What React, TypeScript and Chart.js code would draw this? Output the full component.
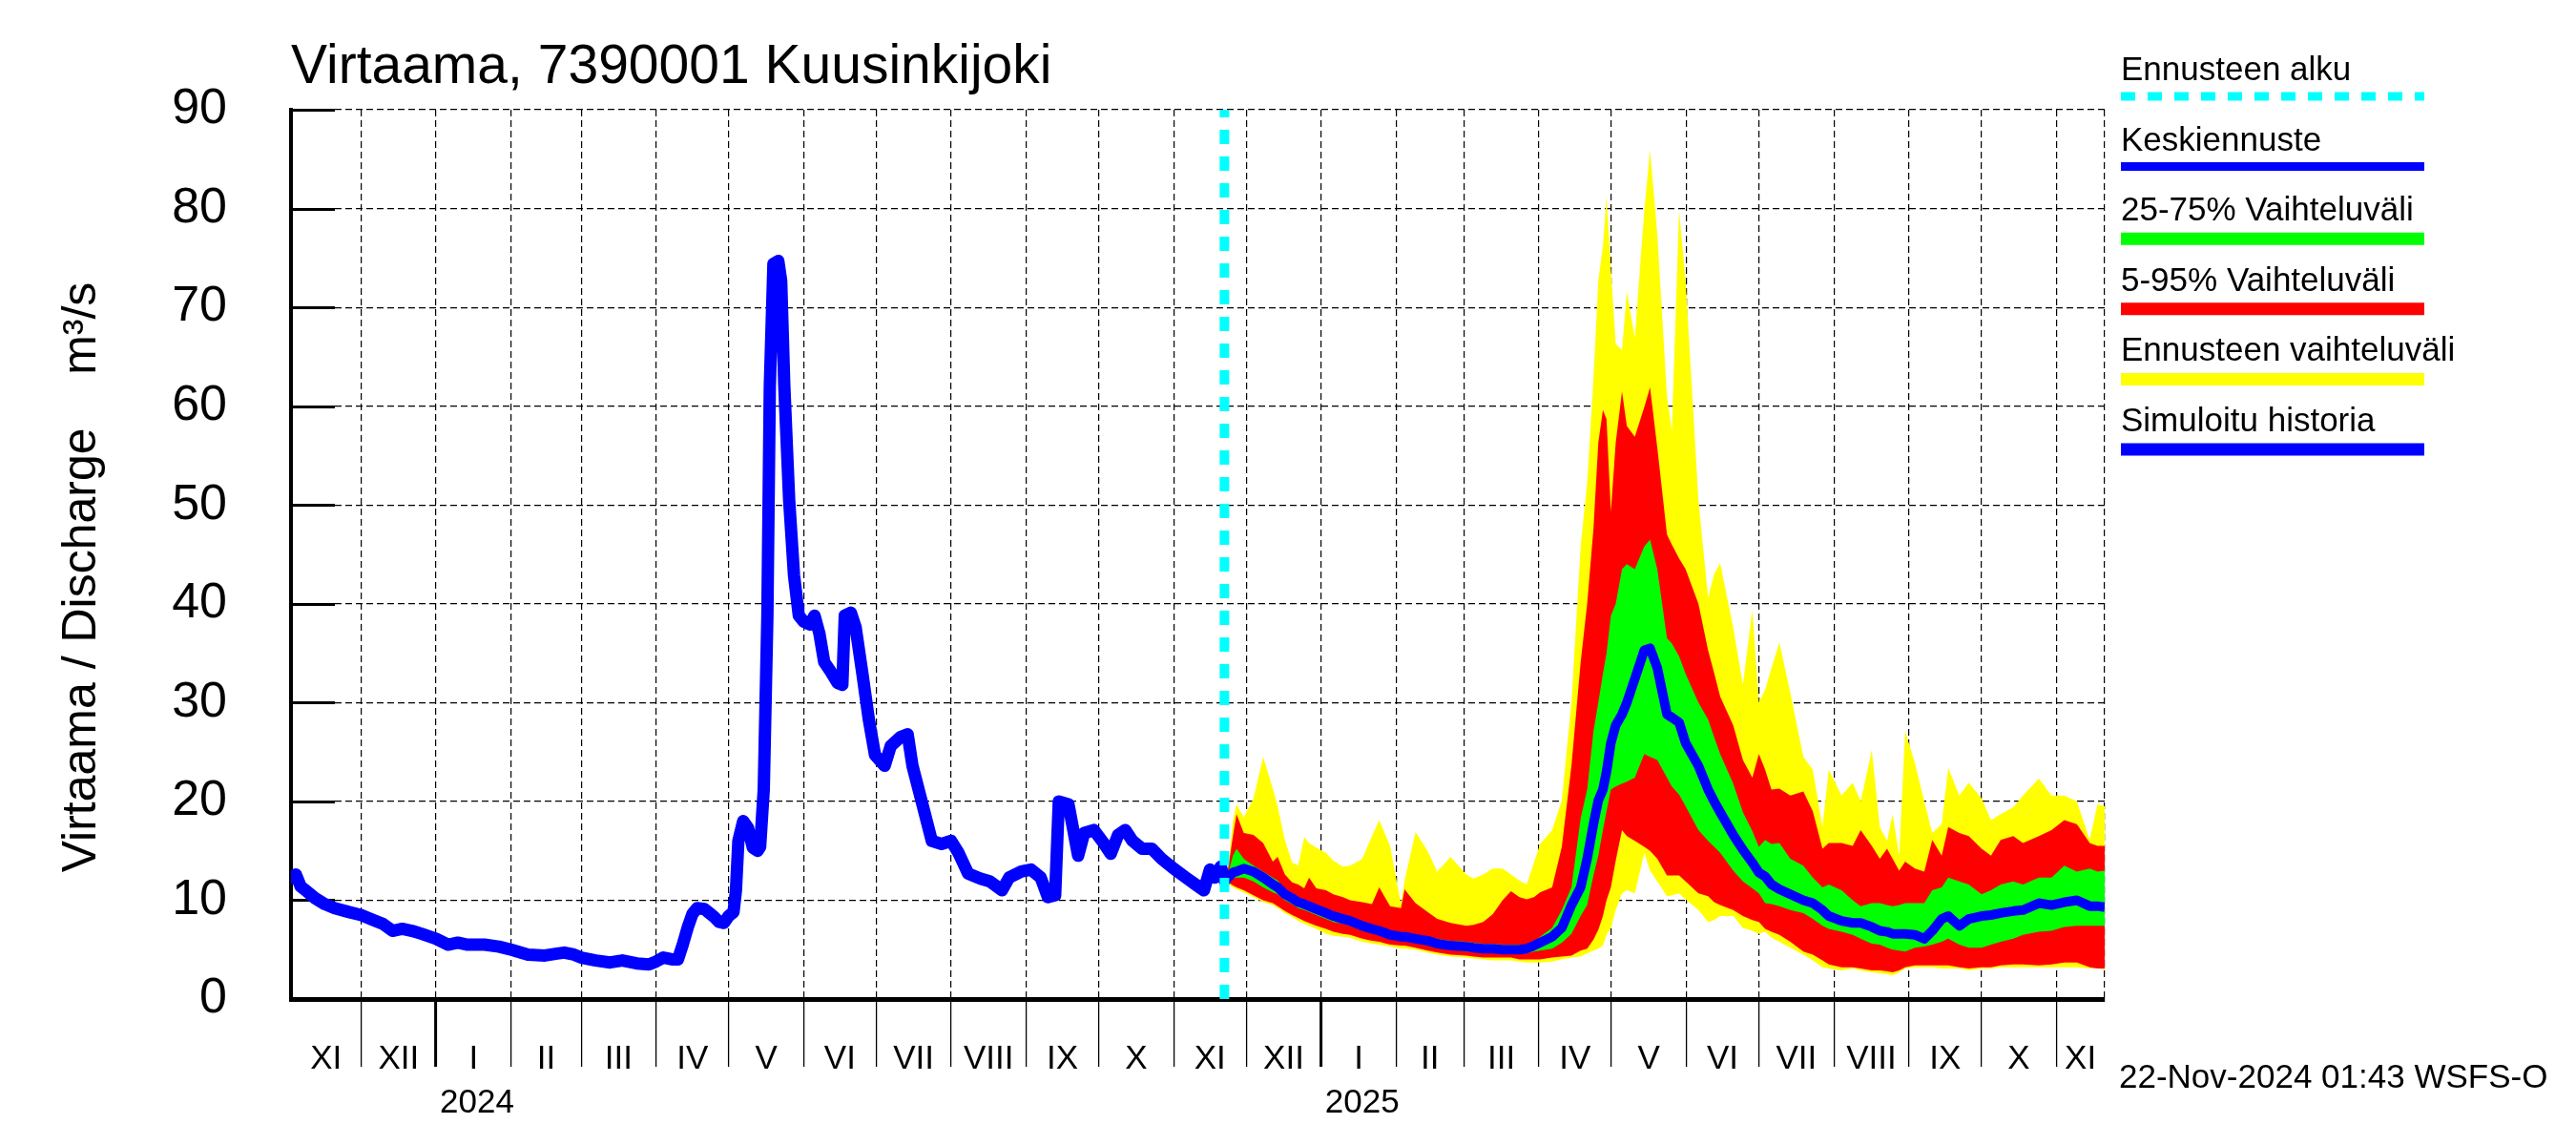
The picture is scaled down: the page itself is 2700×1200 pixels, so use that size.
import React, { useEffect, useRef } from 'react';
import { Chart, registerables } from 'chart.js';

Chart.register(...registerables);

const FONT = '"Liberation Sans", Arial, Helvetica, sans-serif';

// ---- axis data (days counted from 1 Jan 2024) ----
const xMinDay = -60;
const xMaxDay = 690;
const forecastStartDay = 326;
const monthStartDays = [-31, 0, 31, 60, 91, 121, 152, 182, 213, 244, 274, 305, 335, 366, 397, 425, 456, 486, 517, 547, 578, 609, 639, 670];
const monthLabels = ['XI', 'XII', 'I', 'II', 'III', 'IV', 'V', 'VI', 'VII', 'VIII', 'IX', 'X', 'XI', 'XII', 'I', 'II', 'III', 'IV', 'V', 'VI', 'VII', 'VIII', 'IX', 'X', 'XI'];
const yearStartDays = [0, 366];
const yearLabels = ['2024', '2025'];

// ---- simulated history ----
const histDays = [-60, -58, -56, -54, -50, -46, -42, -36, -31, -26, -22, -18, -14, -10, -6, 0, 5, 9, 13, 20, 26, 31, 38, 45, 50, 53, 57, 60, 66, 72, 77, 83, 88, 91, 94, 98, 100, 102, 104, 106, 108, 111, 113, 115, 117, 119, 121, 123, 124, 125, 127, 129, 131, 133, 134, 135.5, 137, 138, 139.5, 141.5, 142.7, 144, 146, 148, 150, 152, 154.5, 156.5, 158.5, 160.5, 163, 166, 168, 169, 171.5, 173.5, 176.3, 179, 181.5, 185.5, 188, 192, 195, 197, 201, 205, 209, 213, 216, 220, 225, 229, 234, 237, 242, 246, 250, 253, 256, 257.5, 261.5, 263.5, 265.5, 268, 272, 276, 279, 282, 285, 288, 292, 296, 300, 305, 310, 314, 317.5, 320, 322, 324.5, 326];
const histFlow = [12.3, 12.6, 11.4, 11.0, 10.2, 9.6, 9.2, 8.8, 8.5, 8.0, 7.6, 6.9, 7.1, 6.9, 6.6, 6.1, 5.5, 5.7, 5.5, 5.5, 5.3, 5.0, 4.5, 4.4, 4.6, 4.7, 4.5, 4.2, 3.9, 3.7, 3.9, 3.6, 3.5, 3.8, 4.2, 4.0, 4.0, 5.5, 7.2, 8.6, 9.2, 9.1, 8.7, 8.3, 7.8, 7.7, 8.4, 8.8, 11.0, 16.0, 18.0, 17.3, 15.3, 15.0, 15.4, 21.2, 38.8, 62.0, 74.4, 74.7, 72.7, 62.0, 50.5, 42.9, 38.8, 38.2, 37.9, 38.8, 37.0, 34.1, 33.2, 32.0, 31.8, 38.8, 39.1, 37.6, 32.9, 28.2, 24.7, 23.6, 25.6, 26.5, 26.8, 23.6, 19.8, 16.0, 15.7, 16.0, 14.8, 12.7, 12.2, 11.9, 11.0, 12.3, 12.9, 13.1, 12.3, 10.3, 10.5, 20.0, 19.7, 17.1, 14.5, 16.8, 17.1, 15.8, 14.7, 16.6, 17.1, 16.0, 15.2, 15.2, 14.2, 13.2, 12.3, 11.6, 11.0, 13.1, 12.3, 13.4, 12.0];

// ---- forecast ----
const fcDays = [326, 327.6, 329.5, 331, 334, 338, 342, 346, 348, 351, 354, 356.5, 359, 361, 364, 368, 371, 375, 378, 383, 387, 390, 394.5, 399, 400.5, 405, 410, 414, 419.5, 426, 429, 433, 437, 441, 444.5, 448, 451, 454, 456.5, 461.5, 465.5, 469.5, 473.3, 476, 478.6, 480.6, 482.5, 484, 485.8, 487.8, 490.4, 492.4, 495.7, 499.6, 502, 505, 509, 511, 514, 516.7, 522, 526, 528.5, 531, 536.4, 540.4, 544.3, 547, 549.6, 552.2, 555.5, 560, 565.4, 569.3, 573.3, 575.9, 581.2, 585.8, 589.1, 593.7, 597, 600, 602.3, 605, 607.5, 611.5, 615.4, 618.7, 622.6, 625.3, 629.9, 633.8, 639.1, 643, 647, 652.2, 656.2, 662.8, 668, 673.3, 678.5, 683.8, 687, 690];
const fcMax = [12.5, 13.5, 18.0, 19.7, 18.4, 20.3, 24.5, 21.3, 19.5, 16.1, 13.8, 13.5, 16.4, 15.8, 15.3, 14.8, 14.0, 13.4, 13.5, 14.2, 16.5, 18.1, 15.5, 9.6, 12.0, 16.9, 15.0, 12.9, 14.4, 12.6, 12.2, 12.6, 13.2, 13.2, 12.6, 12.0, 11.6, 13.8, 15.7, 17.1, 20.1, 30.0, 45.8, 52.3, 62.8, 72.7, 76.2, 81.2, 73.9, 66.3, 65.7, 71.6, 66.9, 79.8, 85.9, 77.4, 61.0, 57.5, 79.8, 72.7, 50.5, 40.6, 43.0, 44.1, 37.6, 31.8, 39.4, 30.0, 31.3, 33.5, 36.1, 31.0, 24.5, 23.2, 17.4, 23.2, 20.6, 21.9, 20.0, 25.2, 17.4, 16.0, 18.7, 14.5, 27.1, 23.9, 20.0, 16.8, 17.7, 23.4, 20.6, 21.9, 20.3, 18.1, 18.7, 19.4, 20.6, 22.3, 20.6, 20.6, 20.0, 16.1, 19.7, 19.5];
const fcP95 = [12.5, 13.3, 16.5, 18.7, 16.8, 16.6, 15.8, 13.9, 14.4, 12.6, 11.8, 11.6, 11.2, 12.3, 11.2, 11.0, 10.6, 10.3, 10.0, 9.8, 9.6, 11.3, 9.4, 9.2, 11.1, 9.7, 8.8, 8.1, 7.7, 7.4, 7.5, 7.8, 8.6, 10.0, 10.9, 10.3, 10.1, 10.3, 10.8, 11.3, 15.4, 23.6, 34.1, 40.0, 47.6, 56.3, 59.6, 58.7, 49.3, 56.3, 61.5, 58.0, 56.9, 59.9, 61.9, 55.8, 47.0, 46.0, 44.6, 43.5, 40.0, 35.3, 33.0, 30.6, 27.7, 24.2, 22.4, 24.8, 23.2, 21.2, 21.3, 20.6, 21.0, 19.0, 15.2, 15.8, 15.8, 15.5, 17.1, 15.5, 14.2, 15.2, 14.2, 13.0, 13.9, 13.2, 12.9, 16.1, 14.5, 17.4, 16.8, 16.5, 15.2, 14.5, 16.1, 16.5, 15.8, 16.5, 17.1, 18.1, 17.7, 15.8, 15.5, 15.5];
const fcP75 = [12.4, 12.8, 14.5, 15.2, 14.2, 13.5, 12.9, 12.3, 12.0, 11.1, 10.6, 10.3, 10.0, 9.8, 9.5, 9.0, 8.8, 8.5, 8.3, 7.7, 7.5, 7.3, 6.9, 6.7, 6.7, 6.5, 6.3, 6.1, 5.9, 5.8, 5.7, 5.6, 5.6, 5.5, 5.5, 5.5, 5.4, 5.8, 6.3, 7.2, 9.0, 11.3, 18.3, 21.2, 27.1, 30.0, 32.9, 35.0, 38.8, 40.0, 43.5, 44.0, 43.5, 45.8, 46.5, 43.5, 36.5, 36.0, 34.7, 32.9, 30.0, 28.3, 26.5, 24.8, 21.8, 18.9, 17.0, 15.4, 16.1, 15.7, 15.8, 14.2, 13.5, 12.3, 11.3, 11.6, 11.0, 10.0, 9.4, 9.7, 9.7, 9.5, 9.4, 9.5, 9.7, 9.7, 9.7, 11.0, 11.3, 12.3, 11.9, 11.6, 10.6, 11.0, 11.6, 11.9, 11.6, 12.3, 12.3, 13.5, 12.9, 13.2, 12.9, 13.0];
const fcMedian = [12.3, 12.3, 12.8, 12.9, 13.2, 12.9, 12.3, 11.6, 11.3, 10.6, 10.2, 9.8, 9.6, 9.4, 9.1, 8.7, 8.4, 8.1, 7.9, 7.4, 7.1, 6.9, 6.5, 6.3, 6.3, 6.1, 5.9, 5.6, 5.4, 5.3, 5.2, 5.1, 5.1, 5.0, 5.0, 5.0, 5.1, 5.4, 5.7, 6.3, 7.2, 9.5, 11.3, 14.2, 17.7, 20.1, 21.2, 23.0, 25.9, 27.7, 28.8, 30.0, 32.4, 35.3, 35.5, 33.5, 28.8, 28.5, 28.0, 25.9, 23.6, 21.2, 20.0, 18.9, 16.6, 15.1, 13.8, 12.8, 12.4, 11.6, 11.1, 10.6, 10.0, 9.7, 9.0, 8.4, 7.9, 7.7, 7.7, 7.3, 6.9, 6.8, 6.6, 6.6, 6.6, 6.5, 6.1, 6.9, 8.1, 8.4, 7.4, 8.1, 8.4, 8.5, 8.7, 8.9, 9.0, 9.7, 9.5, 9.8, 10.0, 9.4, 9.4, 9.3];
const fcP25 = [12.2, 12.0, 12.3, 12.3, 12.3, 11.9, 11.3, 10.8, 10.6, 10.0, 9.6, 9.2, 9.0, 8.8, 8.5, 8.1, 7.8, 7.6, 7.4, 6.9, 6.7, 6.5, 6.1, 5.9, 5.9, 5.8, 5.5, 5.3, 5.1, 4.8, 4.8, 4.7, 4.7, 4.7, 4.7, 4.6, 4.6, 4.8, 4.9, 5.1, 5.7, 6.6, 8.4, 9.5, 12.5, 14.5, 17.1, 19.0, 21.2, 21.5, 21.8, 22.0, 22.4, 24.8, 24.5, 24.2, 22.4, 21.5, 20.7, 19.5, 17.1, 16.0, 15.4, 14.8, 13.0, 11.9, 11.2, 10.7, 9.7, 9.6, 9.4, 9.0, 8.7, 8.1, 7.4, 7.1, 6.8, 6.5, 6.1, 5.6, 5.5, 5.2, 5.0, 4.9, 4.8, 5.2, 5.3, 5.5, 5.8, 6.1, 5.5, 5.2, 5.2, 5.5, 5.8, 6.1, 6.5, 6.8, 6.9, 7.3, 7.4, 7.4, 7.4, 7.4];
const fcP5 = [12.1, 11.8, 11.5, 11.3, 11.0, 10.5, 10.0, 9.7, 9.4, 8.9, 8.5, 8.2, 7.9, 7.7, 7.4, 7.1, 6.8, 6.6, 6.5, 6.1, 5.9, 5.8, 5.5, 5.4, 5.4, 5.2, 4.9, 4.7, 4.5, 4.4, 4.3, 4.2, 4.2, 4.2, 4.2, 4.0, 4.0, 4.0, 4.0, 4.2, 4.3, 4.4, 4.9, 5.1, 6.0, 7.0, 8.4, 10.0, 11.3, 14.0, 17.1, 16.5, 16.0, 15.4, 15.0, 14.2, 12.5, 12.5, 12.5, 11.9, 10.7, 10.4, 9.8, 9.5, 9.0, 8.4, 8.0, 7.8, 7.1, 6.8, 6.5, 5.8, 4.8, 4.5, 3.9, 3.5, 3.2, 3.2, 3.1, 2.9, 2.9, 2.8, 2.7, 2.9, 3.2, 3.4, 3.4, 3.4, 3.4, 3.4, 3.2, 3.1, 3.2, 3.2, 3.4, 3.5, 3.5, 3.4, 3.5, 3.7, 3.7, 3.2, 3.1, 3.1];
const fcMin = [12.0, 11.6, 11.3, 11.1, 10.8, 10.3, 9.8, 9.5, 9.2, 8.7, 8.3, 7.9, 7.6, 7.4, 7.1, 6.6, 6.4, 6.3, 6.2, 5.8, 5.6, 5.5, 5.3, 5.1, 5.1, 5.0, 4.7, 4.5, 4.3, 4.2, 4.1, 4.0, 3.9, 3.9, 3.9, 3.8, 3.7, 3.7, 3.7, 3.8, 4.0, 4.2, 4.3, 4.6, 4.9, 5.1, 5.4, 6.5, 7.2, 9.0, 10.7, 11.0, 10.7, 14.8, 13.0, 11.9, 10.4, 10.5, 10.7, 10.1, 9.0, 7.8, 8.0, 8.4, 8.4, 7.2, 6.9, 6.6, 6.8, 6.2, 5.8, 5.2, 4.5, 3.9, 3.2, 3.1, 2.9, 3.1, 2.9, 2.7, 2.6, 2.5, 2.4, 2.7, 3.1, 3.2, 3.2, 3.2, 3.1, 3.1, 3.1, 2.9, 3.1, 3.1, 3.2, 3.2, 3.2, 3.2, 3.2, 3.2, 3.2, 3.1, 3.1, 3.0];

const legendItems = [
  { label: 'Ennusteen alku', color: '#00FFFF', width: 9, dash: [15, 13] },
  { label: 'Keskiennuste', color: '#0000FF', width: 9, dash: [] },
  { label: '25-75% Vaihteluväli', color: '#00FF00', width: 13, dash: [] },
  { label: '5-95% Vaihteluväli', color: '#FF0000', width: 13, dash: [] },
  { label: 'Ennusteen vaihteluväli', color: '#FFFF00', width: 13, dash: [] },
  { label: 'Simuloitu historia', color: '#0000FF', width: 13, dash: [] },
];
const titleText = 'Virtaama, 7390001 Kuusinkijoki';
const yTitleText = 'Virtaama / Discharge    m³/s';
const stampText = '22-Nov-2024 01:43 WSFS-O';

const pts = (xs: number[], ys: number[]) => xs.map((x, i) => ({ x, y: ys[i] }));

const decorPlugin = {
  id: 'decor',
  beforeDatasetsDraw(chart: any) {
    const { ctx, chartArea } = chart;
    const ys = chart.scales.y;
    ctx.save();
    ctx.strokeStyle = '#000';
    ctx.lineWidth = 3;
    ys.ticks.forEach((t: any) => {
      const py = Math.round(ys.getPixelForValue(t.value)) + 0.5;
      ctx.beginPath();
      ctx.moveTo(chartArea.left, py);
      ctx.lineTo(chartArea.left + 46, py);
      ctx.stroke();
    });
    ctx.restore();
  },
  afterDraw(chart: any) {
    const { ctx } = chart;
    const xs = chart.scales.x;
    ctx.save();
    ctx.fillStyle = '#000';
    // month labels
    ctx.font = `35px ${FONT}`;
    ctx.textAlign = 'center';
    ctx.textBaseline = 'alphabetic';
    const bounds = [xMinDay, ...monthStartDays, xMaxDay];
    monthLabels.forEach((lab, i) => {
      const c = (bounds[i] + bounds[i + 1]) / 2;
      ctx.fillText(lab, xs.getPixelForValue(c), 1120);
    });
    // year labels
    ctx.textAlign = 'left';
    yearLabels.forEach((lab, i) => {
      ctx.fillText(lab, xs.getPixelForValue(yearStartDays[i]) + 4, 1166);
    });
    // stamp
    ctx.fillText(stampText, 2221, 1140);
    // title
    ctx.font = `57px ${FONT}`;
    ctx.fillText(titleText, 305, 87);
    // y title
    ctx.save();
    ctx.font = `50px ${FONT}`;
    ctx.translate(100, 605);
    ctx.rotate(-Math.PI / 2);
    ctx.textAlign = 'center';
    ctx.fillText(yTitleText, 0, 0);
    ctx.restore();
    // legend
    const lx0 = 2223;
    const lx1 = 2541;
    legendItems.forEach((it, i) => {
      const base = 84 + i * 73.6;
      ctx.font = `35px ${FONT}`;
      ctx.fillStyle = '#000';
      ctx.textAlign = 'left';
      ctx.fillText(it.label, lx0, base);
      ctx.beginPath();
      ctx.setLineDash(it.dash);
      ctx.lineCap = 'butt';
      ctx.strokeStyle = it.color;
      ctx.lineWidth = it.width;
      const ly = base + 17 + (it.width > 9 ? 2 : 0);
      ctx.moveTo(lx0, ly);
      ctx.lineTo(lx1, ly);
      ctx.stroke();
      ctx.setLineDash([]);
    });
    ctx.restore();
  },
};

export default function App() {
  const ref = useRef<HTMLCanvasElement>(null);
  useEffect(() => {
    document.body.style.margin = '0';
    document.body.style.overflow = 'hidden';
    const canvas = ref.current;
    if (!canvas) return;
    Chart.defaults.font.family = FONT;
    const band = (data: any, color: string, fill: any, order: number) => ({
      data,
      borderWidth: 0,
      borderColor: 'rgba(0,0,0,0)',
      backgroundColor: color,
      pointRadius: 0,
      fill,
      order,
      tension: 0,
    });
    const config: any = {
      type: 'line',
      data: {
        datasets: [
          { data: pts(histDays, histFlow), borderColor: '#0000FF', borderWidth: 13, pointRadius: 0, fill: false, order: 0, borderJoinStyle: 'round', borderCapStyle: 'round' },
          { data: pts(fcDays, fcMedian), borderColor: '#0000FF', borderWidth: 10, pointRadius: 0, fill: false, order: 1, borderJoinStyle: 'round' },
          band(pts(fcDays, fcP75), '#00FF00', '+1', 2),
          band(pts(fcDays, fcP25), '#00FF00', false, 2),
          band(pts(fcDays, fcP95), '#FF0000', '+1', 3),
          band(pts(fcDays, fcP5), '#FF0000', false, 3),
          band(pts(fcDays, fcMax), '#FFFF00', '+1', 4),
          band(pts(fcDays, fcMin), '#FFFF00', false, 4),
          { data: [{ x: forecastStartDay, y: 0 }, { x: forecastStartDay, y: 90 }], borderColor: '#00FFFF', borderWidth: 10, borderDash: [15, 13], pointRadius: 0, fill: false, order: -1 },
        ],
      },
      options: {
        animation: false,
        responsive: false,
        devicePixelRatio: 1,
        layout: { padding: { left: 0, top: 115, right: 494, bottom: 0 } },
        plugins: { legend: { display: false }, tooltip: { enabled: false }, title: { display: false } },
        scales: {
          x: {
            type: 'linear',
            min: xMinDay,
            max: xMaxDay,
            afterBuildTicks: (s: any) => {
              s.ticks = [...monthStartDays, xMaxDay].map((v) => ({ value: v }));
            },
            afterFit: (s: any) => { s.height = 153; },
            ticks: { display: false },
            grid: {
              color: '#000',
              lineWidth: 1.2,
              drawTicks: true,
              tickLength: 71,
              tickWidth: (c: any) => (c.tick && yearStartDays.includes(c.tick.value) ? 3 : 1.3),
              tickColor: (c: any) => (c.tick && c.tick.value === xMaxDay ? 'rgba(0,0,0,0)' : '#000'),
              tickBorderDash: [],
            },
            border: { display: true, color: '#000', width: 5, dash: [7, 4] },
          },
          y: {
            type: 'linear',
            min: 0,
            max: 90,
            afterFit: (s: any) => { s.width = 305; },
            ticks: { stepSize: 10, color: '#000', font: { size: 52, family: FONT }, padding: 67 },
            grid: { color: '#000', lineWidth: 1.2, drawTicks: false },
            border: { display: true, color: '#000', width: 4, dash: [7, 4] },
          },
        },
      },
      plugins: [decorPlugin],
    };
    const chart = new Chart(canvas, config);
    return () => chart.destroy();
  }, []);
  return <canvas ref={ref} width={2700} height={1200} style={{ display: 'block', width: '2700px', height: '1200px' }} />;
}
